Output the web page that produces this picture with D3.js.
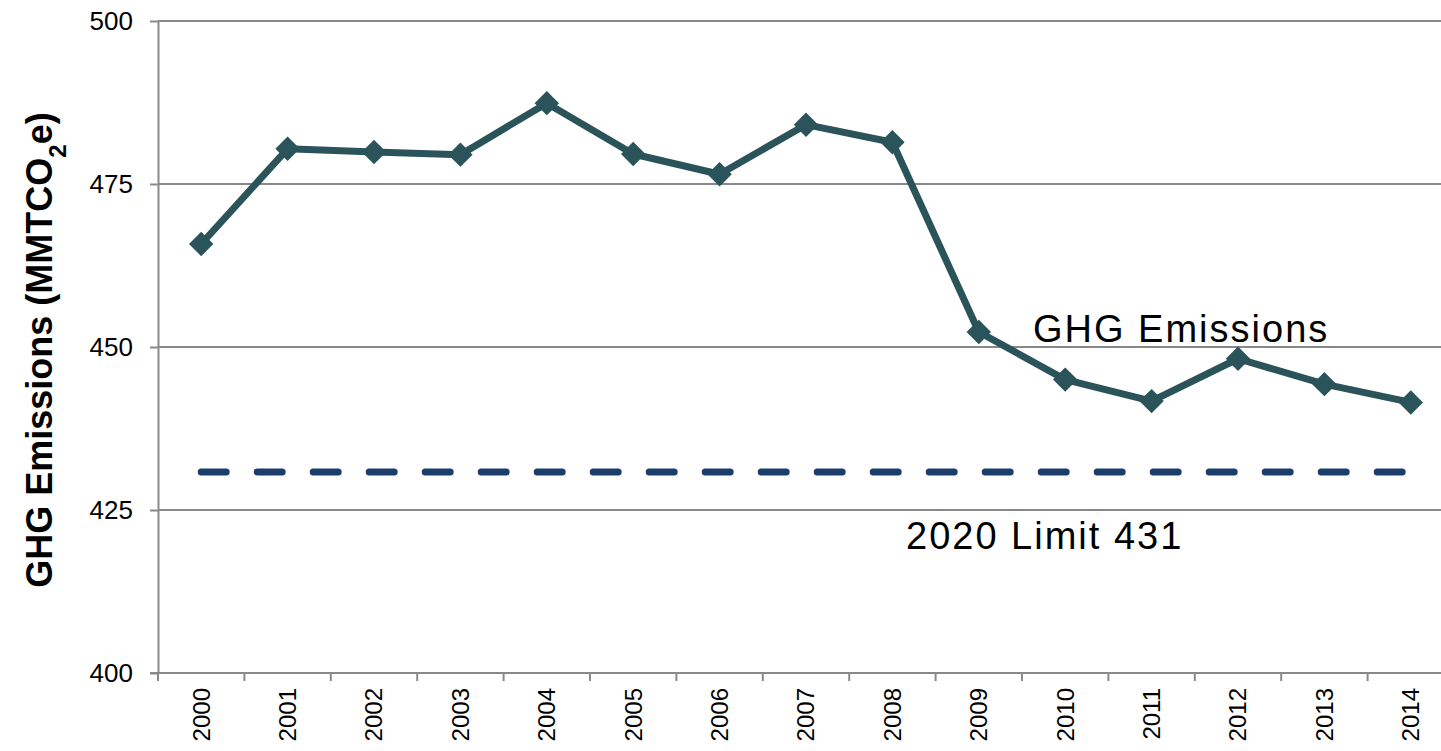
<!DOCTYPE html>
<html>
<head>
<meta charset="utf-8">
<script src="https://cdn.jsdelivr.net/npm/d3@7"></script>
<style>
  body { margin: 0; background: #fff; }
  svg text { font-family: "Liberation Sans", Arial, sans-serif; }
</style>
</head>
<body>
<div id="chart"></div>
<script>
const years = ["2000", "2001", "2002", "2003", "2004", "2005", "2006", "2007",
  "2008", "2009", "2010", "2011", "2012", "2013", "2014"];
const emissions = [465.8, 480.4, 479.9, 479.5, 487.4, 479.6, 476.5, 484.1,
  481.4, 452.3, 445.0, 441.7, 448.2, 444.3, 441.5];
const limit2020 = 431;
const yTicks = [400, 425, 450, 475, 500];

const W = 1441, H = 751;
const margin = { top: 21, left: 158, bottom: 78 };
const plotRight = 1454; // chart runs slightly past the image edge
const plotBottom = H - margin.bottom;

const svg = d3.select("#chart")
  .append("svg")
  .attr("width", W)
  .attr("height", H);

const x = d3.scaleBand()
  .domain(years)
  .range([margin.left, plotRight]);

const y = d3.scaleLinear()
  .domain([400, 500])
  .range([plotBottom, margin.top]);

const gridColor = "#898989";

// horizontal grid lines
svg.append("g")
  .selectAll("line")
  .data(yTicks.filter(d => d > 400))
  .join("line")
  .attr("x1", margin.left)
  .attr("x2", W)
  .attr("y1", d => y(d))
  .attr("y2", d => y(d))
  .attr("stroke", gridColor)
  .attr("stroke-width", 2);

// y axis
const yAxis = svg.append("g")
  .attr("transform", `translate(${margin.left},0)`)
  .call(d3.axisLeft(y).tickValues(yTicks).tickSize(8).tickSizeOuter(0).tickPadding(17));
yAxis.attr("font-size", null).attr("font-family", null);
yAxis.select(".domain").attr("stroke", gridColor).attr("stroke-width", 2);
yAxis.selectAll(".tick line").attr("stroke", gridColor).attr("stroke-width", 2);
yAxis.selectAll("text")
  .attr("fill", "#000")
  .style("font-size", "26px");

// x axis
const xAxis = svg.append("g")
  .attr("transform", `translate(0,${plotBottom})`)
  .call(d3.axisBottom(x).tickSize(0).tickSizeOuter(0));
xAxis.attr("font-size", null).attr("font-family", null);
xAxis.select(".domain").remove();
xAxis.append("line")
  .attr("x1", margin.left - 8)
  .attr("x2", W)
  .attr("stroke", gridColor)
  .attr("stroke-width", 2);
xAxis.selectAll(".tick text")
  .attr("fill", "#000")
  .style("font-size", "24px")
  .attr("text-anchor", "end")
  .attr("transform", `translate(0,${15}) rotate(-90)`)
  .attr("x", 0)
  .attr("y", 0)
  .attr("dy", "0.35em");

// boundary ticks between categories
xAxis.append("g")
  .selectAll("line")
  .data(years)
  .join("line")
  .attr("x1", d => x(d))
  .attr("x2", d => x(d))
  .attr("y1", 0)
  .attr("y2", 8)
  .attr("stroke", gridColor)
  .attr("stroke-width", 2);

// y axis title
svg.append("text")
  .attr("transform", `translate(52,${(margin.top + plotBottom) / 2 + 3}) rotate(-90)`)
  .attr("text-anchor", "middle")
  .style("font-size", "36px")
  .style("font-weight", "bold")
  .html('GHG Emissions (MMTCO<tspan baseline-shift="sub" font-size="24px">2</tspan>e)');

// 2020 limit
const cx = d => x(d) + x.bandwidth() / 2;
svg.append("line")
  .attr("x1", cx(years[0]))
  .attr("x2", cx(years[years.length - 1]))
  .attr("y1", y(limit2020) + 1)
  .attr("y2", y(limit2020) + 1)
  .attr("stroke", "#1B3F6A")
  .attr("stroke-width", 7)
  .attr("stroke-linecap", "round")
  .attr("stroke-dasharray", "25,31");

// emissions line
const data = years.map((yr, i) => ({ year: yr, value: emissions[i] }));
const line = d3.line()
  .x(d => cx(d.year))
  .y(d => y(d.value));

svg.append("path")
  .datum(data)
  .attr("fill", "none")
  .attr("stroke", "#2B535A")
  .attr("stroke-width", 7)
  .attr("stroke-linejoin", "round")
  .attr("d", line);

svg.append("g")
  .selectAll("path")
  .data(data)
  .join("path")
  .attr("transform", d => `translate(${cx(d.year)},${y(d.value)})`)
  .attr("d", d3.symbol(d3.symbolDiamond2, 380))
  .attr("fill", "#2B535A");

// labels
svg.append("text")
  .attr("x", 1033)
  .attr("y", y(450) - 5)
  .style("font-size", "38px")
  .style("letter-spacing", "2px")
  .attr("fill", "#000")
  .text("GHG Emissions");

svg.append("text")
  .attr("x", 906)
  .attr("y", y(limit2020) + 78)
  .style("font-size", "38px")
  .style("letter-spacing", "2px")
  .attr("fill", "#000")
  .text("2020 Limit 431");
</script>
</body>
</html>
